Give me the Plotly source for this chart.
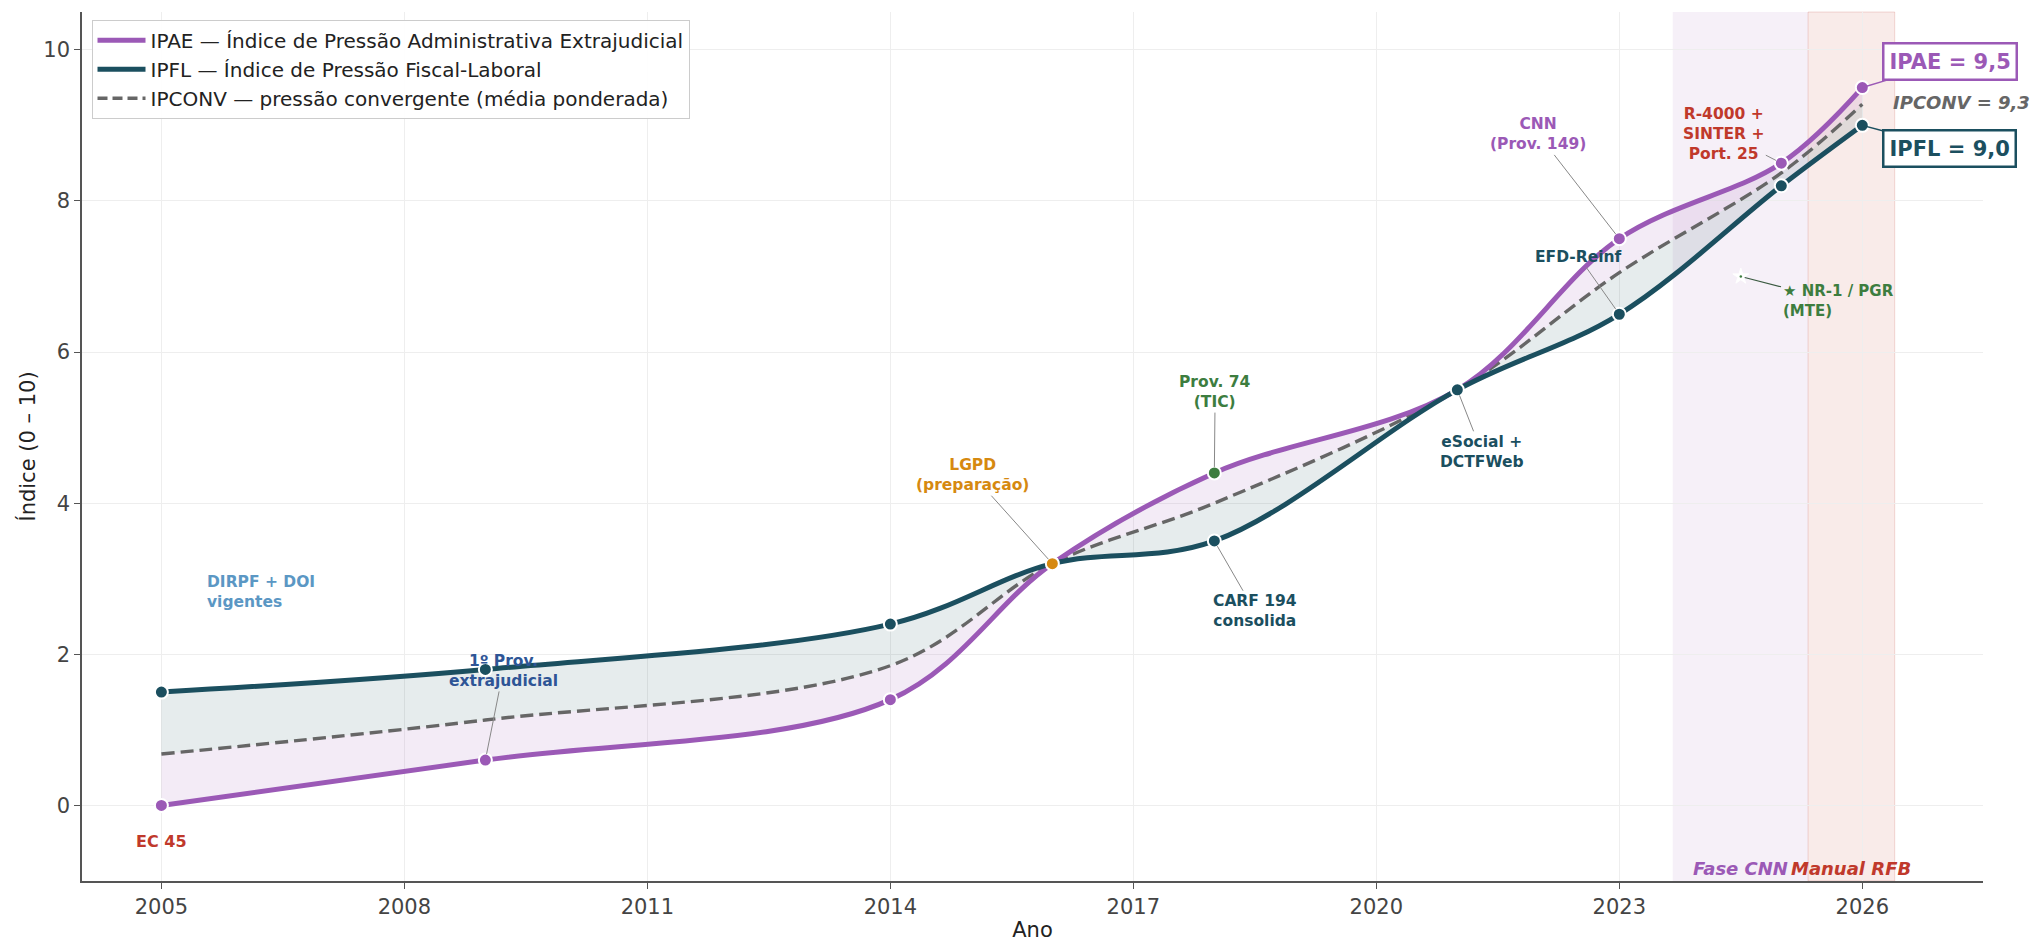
import plotly.graph_objects as go

# ---------------- data ----------------
years = [2005, 2009, 2014, 2016, 2018, 2021, 2023, 2025, 2026]
ipae = [0.0, 0.6, 1.4, 3.2, 4.4, 5.5, 7.5, 8.5, 9.5]
ipfl = [1.5, 1.8, 2.4, 3.2, 3.5, 5.5, 6.5, 8.2, 9.0]
ipconv = [0.68, 1.13, 1.85, 3.2, 4.0, 5.5, 7.05, 8.37, 9.28]

x_ticks = [2005, 2008, 2011, 2014, 2017, 2020, 2023, 2026]
y_ticks = [0, 2, 4, 6, 8, 10]

phase_names = ["Fase CNN", "Manual RFB"]
phase_start = [2023.66, 2025.33]
phase_end = [2025.33, 2026.40]

nr1_year = [2024.5]
nr1_value = [7.0]

# ---------------- styles ----------------
PURPLE = "#9b59b6"
TEAL = "#1b4f5f"
GREY = "#666666"
ORANGE = "#d68910"
GREEN = "#3d7d3f"
RED = "#c0392b"
LBLUE = "#5b97c4"
DBLUE = "#2e5596"
FONT = "DejaVu Sans"
DASH = "13px,6px"

ipae_marker_colors = [PURPLE, PURPLE, PURPLE, PURPLE, GREEN, PURPLE, PURPLE, PURPLE, PURPLE]
ipfl_marker_colors = [TEAL, TEAL, TEAL, ORANGE, TEAL, TEAL, TEAL, TEAL, TEAL]

fig = go.Figure()

# fills (IPCONV as baseline)
fig.add_trace(go.Scatter(x=years, y=ipconv, mode="lines", line=dict(width=0, shape="spline"),
                         showlegend=False, hoverinfo="skip"))
fig.add_trace(go.Scatter(x=years, y=ipae, mode="lines", line=dict(width=0, shape="spline"),
                         fill="tonexty", fillcolor="rgba(155,89,182,0.12)",
                         showlegend=False, hoverinfo="skip"))
fig.add_trace(go.Scatter(x=years, y=ipconv, mode="lines", line=dict(width=0, shape="spline"),
                         showlegend=False, hoverinfo="skip"))
fig.add_trace(go.Scatter(x=years, y=ipfl, mode="lines", line=dict(width=0, shape="spline"),
                         fill="tonexty", fillcolor="rgba(27,79,95,0.11)",
                         showlegend=False, hoverinfo="skip"))

# visible lines
fig.add_trace(go.Scatter(x=years, y=ipconv, mode="lines",
                         line=dict(color=GREY, width=3.4, dash=DASH, shape="spline"),
                         showlegend=False))
fig.add_trace(go.Scatter(x=years, y=ipae, mode="lines+markers",
                         line=dict(color=PURPLE, width=5, shape="spline"),
                         marker=dict(size=13, color=ipae_marker_colors, line=dict(color="white", width=2)),
                         showlegend=False))
fig.add_trace(go.Scatter(x=years, y=ipfl, mode="lines+markers",
                         line=dict(color=TEAL, width=5, shape="spline"),
                         marker=dict(size=13, color=ipfl_marker_colors, line=dict(color="white", width=2)),
                         showlegend=False))
fig.add_trace(go.Scatter(x=nr1_year, y=nr1_value, mode="markers",
                         marker=dict(symbol="star", size=12, color="white", line=dict(color="white", width=1)),
                         showlegend=False, hoverinfo="skip"))
fig.add_trace(go.Scatter(x=nr1_year, y=nr1_value, mode="markers",
                         marker=dict(symbol="circle", size=2.5, color=GREEN),
                         showlegend=False, hoverinfo="skip"))

# legend entries (lines only)
legend_items = [
    ("IPAE — Índice de Pressão Administrativa Extrajudicial", PURPLE, 5, "solid"),
    ("IPFL — Índice de Pressão Fiscal-Laboral", TEAL, 5, "solid"),
    ("IPCONV — pressão convergente (média ponderada)", GREY, 3.4, "10px,5px"),
]
for i, (nm, col, w, d) in enumerate(legend_items):
    fig.add_trace(go.Scatter(x=[None], y=[None], mode="lines", name=nm,
                             line=dict(color=col, width=w, dash=d),
                             legendgroup=f"g{i}", legendrank=i + 1))

# phase bands
band_fill = ["rgba(155,89,182,0.09)", "rgba(192,57,43,0.10)"]
band_edge = ["rgba(155,89,182,0.0)", "rgba(192,57,43,0.18)"]
band_font = [PURPLE, RED]
for name, a, b, fc, ec, tc in zip(phase_names, phase_start, phase_end, band_fill, band_edge, band_font):
    fig.add_shape(type="rect", xref="x", yref="paper", x0=a, x1=b, y0=0, y1=1,
                  fillcolor=fc, line=dict(color=ec, width=1), layer="below")
    fig.add_annotation(x=(a + b) / 2, y=-0.84, text=name, showarrow=False,
                       font=dict(family=FONT, size=18, color=tc, weight="bold", style="italic"))

# event annotations: (text, point x, point y, label x, label y, colour)
events = [
    ("1º Prov.<br>extrajudicial", 2009, 0.6, 2009.22, 1.78, DBLUE),
    ("LGPD<br>(preparação)", 2016, 3.2, 2015.02, 4.37, ORANGE),
    ("Prov. 74<br>(TIC)", 2018, 4.4, 2018.01, 5.47, GREEN),
    ("CARF 194<br>consolida", 2018, 3.5, 2018.50, 2.57, TEAL),
    ("eSocial +<br>DCTFWeb", 2021, 5.5, 2021.30, 4.68, TEAL),
    ("EFD-Reinf", 2023, 6.5, 2022.50, 7.26, TEAL),
    ("CNN<br>(Prov. 149)", 2023, 7.5, 2022.0, 8.88, PURPLE),
    ("R-4000 +<br>SINTER +<br>Port. 25", 2025, 8.5, 2024.29, 8.89, RED),
]
for text, px, py, lx, ly, col in events:
    fig.add_annotation(x=px, y=py, ax=lx, ay=ly, xref="x", yref="y", axref="x", ayref="y",
                       text=text, showarrow=True, arrowhead=0, arrowwidth=1, arrowcolor="#888888",
                       standoff=6, font=dict(family=FONT, size=15.5, color=col, weight="bold"),
                       align="center")

fig.add_annotation(x=nr1_year[0], y=nr1_value[0], ax=2025.70, ay=6.67, xref="x", yref="y",
                   axref="x", ayref="y", text="★ NR-1 / PGR<br>(MTE)", showarrow=True,
                   arrowhead=0, arrowwidth=1.2, arrowcolor="#3a5a40", standoff=4,
                   font=dict(family=FONT, size=15, color=GREEN, weight="bold"), align="left")

fig.add_annotation(x=2005, y=-0.48, text="EC 45", showarrow=False,
                   font=dict(family=FONT, size=16, color=RED, weight="bold"))
fig.add_annotation(x=2005.54, y=2.82, text="DIRPF + DOI<br>vigentes", showarrow=False,
                   xanchor="left", align="left",
                   font=dict(family=FONT, size=15.5, color=LBLUE, weight="bold"))

# end values
fig.add_annotation(x=years[-1], y=ipae[-1], ax=2027.08, ay=9.85, xref="x", yref="y",
                   axref="x", ayref="y", text="IPAE = 9,5", showarrow=True, arrowhead=0,
                   arrowwidth=1.5, arrowcolor=PURPLE, bgcolor="white", bordercolor=PURPLE,
                   borderwidth=2.5, borderpad=5,
                   font=dict(family=FONT, size=21, color=PURPLE, weight="bold"))
fig.add_annotation(x=years[-1], y=ipfl[-1], ax=2027.08, ay=8.69, xref="x", yref="y",
                   axref="x", ayref="y", text="IPFL = 9,0", showarrow=True, arrowhead=0,
                   arrowwidth=1.5, arrowcolor=TEAL, bgcolor="white", bordercolor=TEAL,
                   borderwidth=2.5, borderpad=5,
                   font=dict(family=FONT, size=21, color=TEAL, weight="bold"))
fig.add_annotation(x=2027.23, y=9.30, text="IPCONV = 9,3", showarrow=False,
                   font=dict(family=FONT, size=18, color=GREY, weight="bold", style="italic"))

fig.update_layout(
    width=2041, height=942,
    margin=dict(l=82, r=58, t=12, b=61),
    plot_bgcolor="white", paper_bgcolor="white",
    font=dict(family=FONT, size=18, color="#333333"),
    showlegend=True,
    legend=dict(x=0.005, y=0.991, xanchor="left", yanchor="top", traceorder="normal",
                tracegroupgap=8, itemwidth=48,
                bgcolor="rgba(255,255,255,0.9)", bordercolor="#cccccc", borderwidth=1,
                font=dict(family=FONT, size=20, color="#222222")),
    xaxis=dict(range=[2004.02, 2027.49], tickmode="array", tickvals=x_ticks,
               ticktext=[str(t) for t in x_ticks], automargin=False,
               showgrid=True, gridcolor="#eeeeee", gridwidth=1, zeroline=False,
               showline=True, linecolor="#555555", linewidth=1.5,
               ticks="outside", ticklen=6, tickcolor="#555555",
               tickfont=dict(family=FONT, size=21, color="#444444"),
               title=dict(text="Ano", font=dict(family=FONT, size=21, color="#222222"), standoff=9)),
    yaxis=dict(range=[-1, 10.5], tickmode="array", tickvals=y_ticks, automargin=False,
               showgrid=True, gridcolor="#eeeeee", gridwidth=1, zeroline=False,
               showline=True, linecolor="#555555", linewidth=1.5,
               ticks="outside", ticklen=6, tickcolor="#555555",
               tickfont=dict(family=FONT, size=21, color="#444444"),
               title=dict(text="Índice (0 – 10)", font=dict(family=FONT, size=21, color="#222222"),
                          standoff=2)),
)

fig.write_html("out.html", config={"displayModeBar": False},
               post_script="document.body.style.margin='0';document.body.style.overflow='hidden';")
